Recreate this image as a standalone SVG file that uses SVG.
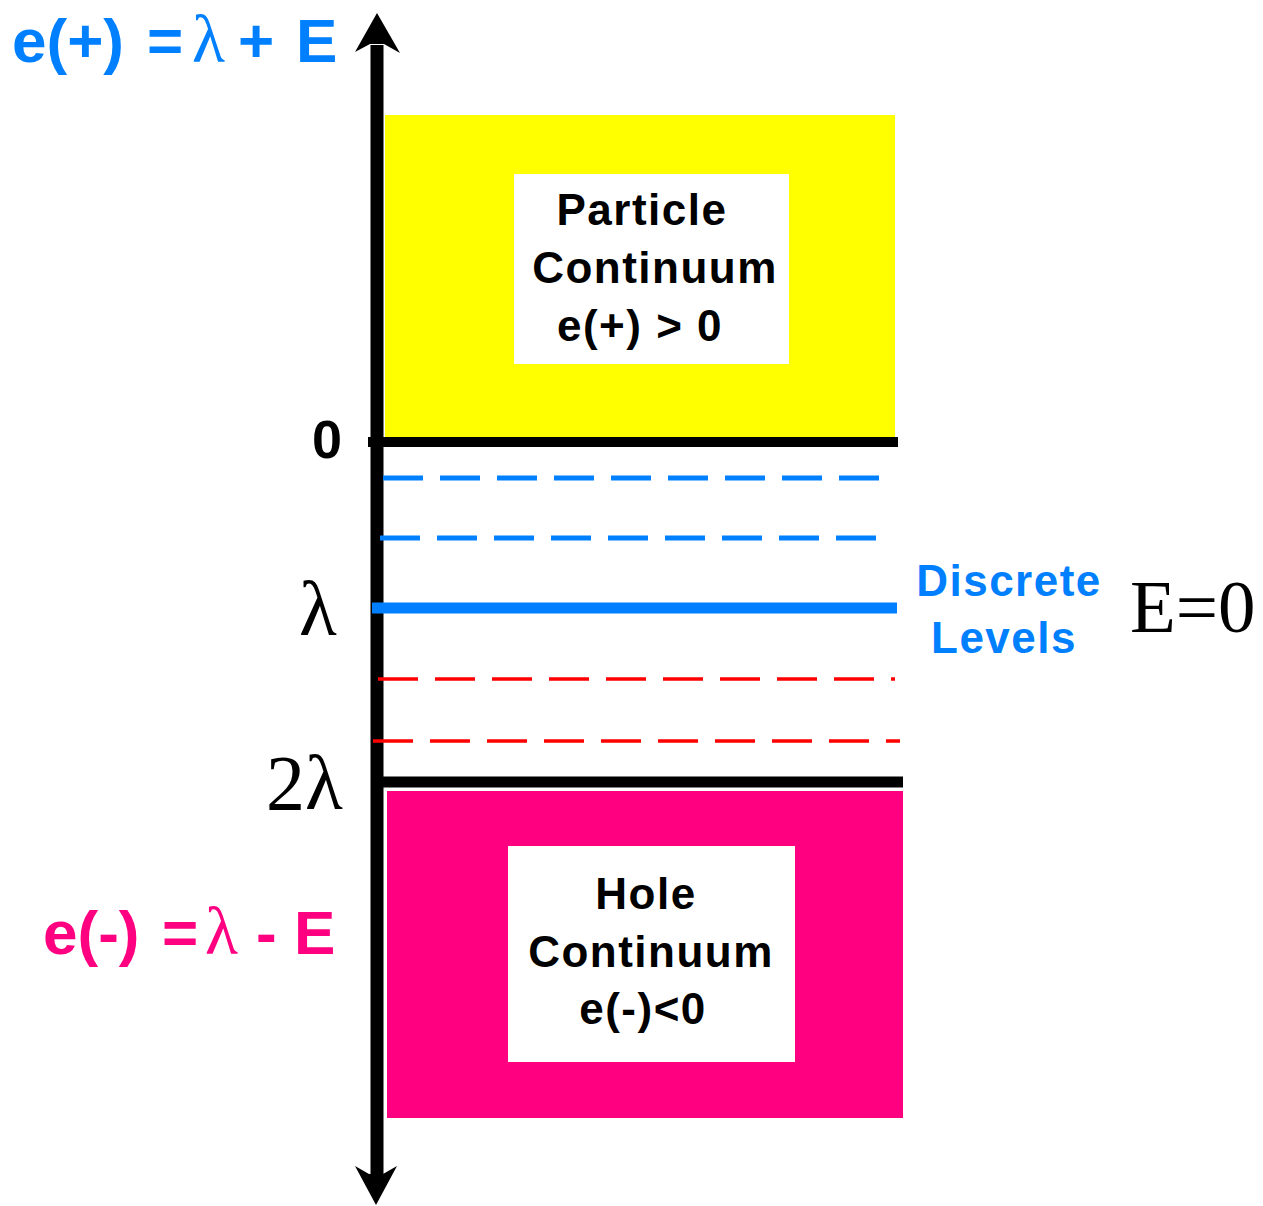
<svg xmlns="http://www.w3.org/2000/svg" width="1263" height="1206" viewBox="0 0 1263 1206">
<style>
.sans{font-family:"Liberation Sans",Arial,sans-serif;font-weight:bold}
.serif{font-family:"Liberation Serif","Times New Roman",serif;font-weight:normal}
.box{font-size:44px;letter-spacing:1.5px;fill:#000;text-anchor:middle}
.blue{fill:#0080FF}
.pink{fill:#FF0080}
.dashB{stroke:#0080FF;stroke-width:5;stroke-dasharray:40 17;fill:none}
.dashR{stroke:#FF0000;stroke-width:3.5;stroke-dasharray:40 17;fill:none}
</style>
<rect width="1263" height="1206" fill="#fff"/>
<g id="particle-continuum">
<rect x="385" y="115" width="510" height="322" fill="#FFFF00"/>
<rect x="514" y="174" width="275" height="190" fill="#fff"/>
<text class="sans box" x="642" y="225">Particle</text>
<text class="sans box" x="655" y="283" letter-spacing="2.2">Continuum</text>
<text class="sans box" x="640" y="341">e(+) &gt; 0</text>
</g>
<g id="hole-continuum">
<rect x="387" y="791" width="516" height="327" fill="#FF0080"/>
<rect x="508" y="846" width="287" height="216" fill="#fff"/>
<text class="sans box" x="646" y="909">Hole</text>
<text class="sans box" x="651" y="967" letter-spacing="2.2">Continuum</text>
<text class="sans box" x="643" y="1024">e(-)&lt;0</text>
</g>
<g id="connectors">
<line x1="377" y1="45" x2="377" y2="1175" stroke="#000" stroke-width="13"/>
<polygon points="377,13 400,53 384,44 370,44 355,52" fill="#000"/>
<polygon points="376,1205 397,1166 383,1174 369,1174 355,1166" fill="#000"/>
<line x1="368" y1="442" x2="898" y2="442" stroke="#000" stroke-width="10"/>
<line x1="383" y1="478" x2="893" y2="478" class="dashB"/>
<line x1="380" y1="538" x2="890" y2="538" class="dashB"/>
<line x1="372" y1="608" x2="897" y2="608" stroke="#0080FF" stroke-width="11"/>
<line x1="378" y1="679" x2="895" y2="679" class="dashR"/>
<line x1="373" y1="741" x2="900" y2="741" class="dashR"/>
<line x1="380" y1="782" x2="903" y2="782" stroke="#000" stroke-width="11"/>
</g>
<g id="labels">
<text class="sans blue" y="62" font-size="62"><tspan x="12">e(+)</tspan><tspan x="147">=</tspan><tspan class="serif" x="192" font-size="68">λ</tspan><tspan x="238">+</tspan><tspan x="296">E</tspan></text>
<text class="sans pink" y="954" font-size="62"><tspan x="43">e(-)</tspan><tspan x="162">=</tspan><tspan class="serif" x="205" font-size="68">λ</tspan><tspan x="256">-</tspan><tspan x="294">E</tspan></text>
<text class="sans" x="312" y="458" font-size="54">0</text>
<text class="serif" x="299" y="635" font-size="78">λ</text>
<text class="serif" x="266" y="809" font-size="78">2λ</text>
<text class="sans blue" x="1009" y="596" font-size="44" text-anchor="middle" letter-spacing="1.5">Discrete</text>
<text class="sans blue" x="1004" y="653" font-size="44" text-anchor="middle" letter-spacing="1.5">Levels</text>
<text class="serif" x="1130" y="632" font-size="75">E=0</text>
</g>
</svg>
